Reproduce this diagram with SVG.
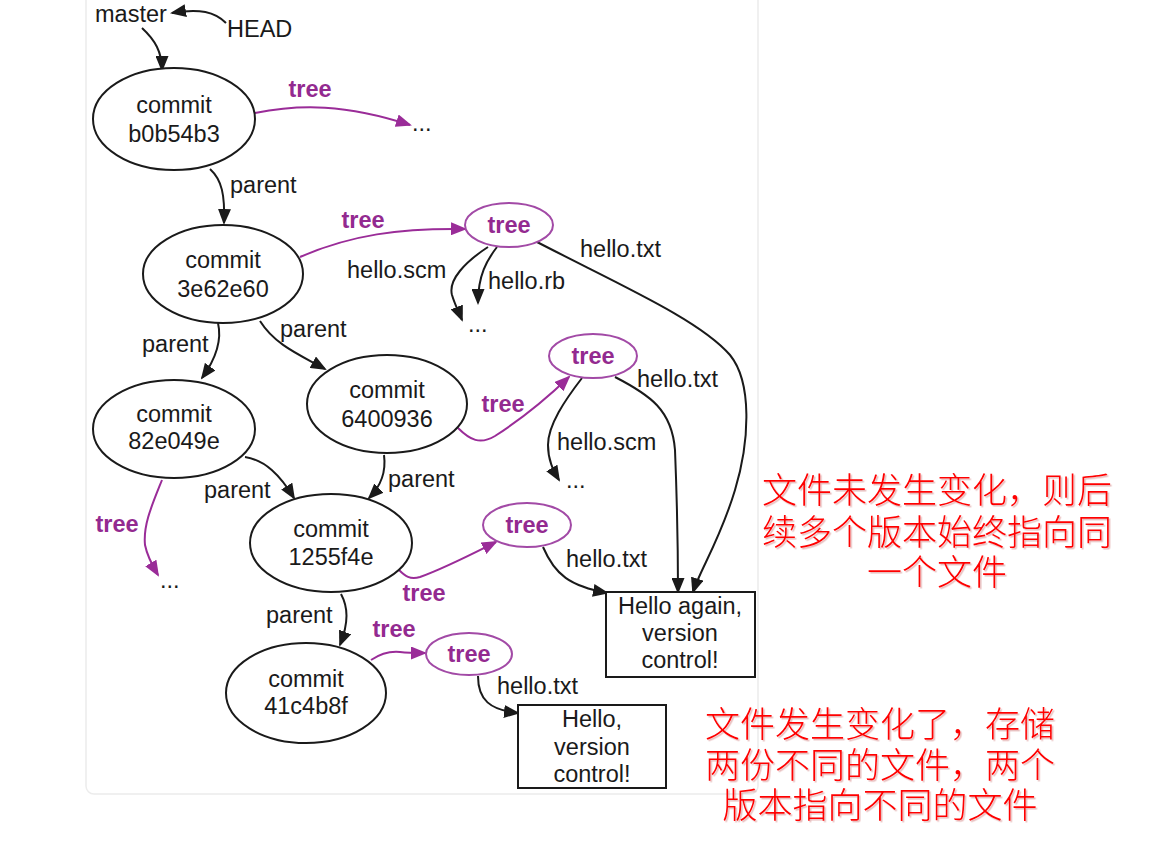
<svg xmlns="http://www.w3.org/2000/svg" width="1166" height="844" viewBox="0 0 1166 844">
<style>
  .t { font-family: "Liberation Sans", Arial, sans-serif; font-size: 23.5px; fill: #1a1a1a; }
  .m { text-anchor: middle; }
  .p { font-family: "Liberation Sans", Arial, sans-serif; font-size: 23.5px; font-weight: bold; fill: #932a90; }
  .node { fill: #fff; stroke: #1a1a1a; stroke-width: 2; }
  .tnode { fill: #fff; stroke: #a24aa6; stroke-width: 2; }
  .box { fill: #fff; stroke: #1a1a1a; stroke-width: 2; }
  .e { fill: none; stroke: #1a1a1a; stroke-width: 2; marker-end: url(#ab); }
  .ep { fill: none; stroke: #9a2c98; stroke-width: 2; marker-end: url(#ap); }
  .cn { font-family: "Liberation Sans", "Noto Sans CJK SC", "Noto Sans CJK TC", sans-serif; font-size: 35px; font-weight: 300; fill: #ff0000; text-anchor: middle; filter: url(#sh); }
</style>
<defs>
  <marker id="ab" viewBox="0 0 16 13" refX="14" refY="6.5" markerWidth="16" markerHeight="13" markerUnits="userSpaceOnUse" orient="auto">
    <path d="M0,0 L16,6.5 L0,13 z" fill="#1a1a1a"/>
  </marker>
  <marker id="ap" viewBox="0 0 16 13" refX="14" refY="6.5" markerWidth="16" markerHeight="13" markerUnits="userSpaceOnUse" orient="auto">
    <path d="M0,0 L16,6.5 L0,13 z" fill="#9a2c98"/>
  </marker>
  <filter id="sh" x="-5%" y="-20%" width="110%" height="140%">
    <feDropShadow dx="1.5" dy="1.5" stdDeviation="0.5" flood-color="#c05050" flood-opacity="0.4"/>
  </filter>
</defs>
<rect x="0" y="0" width="1166" height="844" fill="#fff"/>
<rect x="86" y="-10" width="672" height="804" rx="8" fill="#fff" stroke="#ececec" stroke-width="1.5"/>

<g id="connectors">
  <path class="e" d="M226 23 C 215 12, 200 8, 172 13"/>
  <path class="e" d="M142 28 C 155 40, 162 52, 162 70"/>
  <path class="ep" d="M255 113 C 300 104, 345 104, 410 125"/>
  <path class="e" d="M210 169 C 222 180, 225 195, 224 223"/>
  <path class="ep" d="M300 257 C 350 235, 400 228, 465 229"/>
  <path class="e" d="M488 247 C 465 262, 448 280, 452 295 C 455 305, 458 310, 462 320"/>
  <path class="e" d="M497 247 C 487 260, 478 275, 478 303"/>
  <path class="e" d="M537 242 C 620 285, 700 320, 730 355 C 752 382, 750 440, 735 490 C 720 540, 700 570, 693 592"/>
  <path class="e" d="M218 323 C 222 340, 215 360, 202 378"/>
  <path class="e" d="M260 321 C 275 345, 300 355, 325 369"/>
  <path class="e" d="M245 457 C 265 460, 280 475, 294 498"/>
  <path class="e" d="M384 455 C 386 470, 382 485, 369 498"/>
  <path class="ep" d="M162 480 C 152 505, 143 525, 145 545 C 147 555, 152 565, 158 575"/>
  <path class="ep" d="M458 428 C 470 440, 480 445, 495 436 C 520 420, 545 400, 569 377"/>
  <path class="e" d="M582 378 C 565 400, 548 425, 548 445 C 548 460, 553 470, 559 480"/>
  <path class="e" d="M615 377 C 650 395, 672 410, 675 450 C 677 500, 678 550, 678 592"/>
  <path class="ep" d="M399 570 C 405 576, 410 580, 420 577 C 445 568, 470 555, 496 542"/>
  <path class="e" d="M543 547 C 555 575, 570 586, 607 593"/>
  <path class="e" d="M341 594 C 348 607, 349 622, 340 645"/>
  <path class="ep" d="M371 660 C 380 654, 390 651, 400 652 C 408 653, 414 653, 425 653"/>
  <path class="e" d="M478 676 C 478 700, 490 710, 518 713"/>
</g>

<g id="labels">
  <text class="t" x="95" y="22">master</text>
  <text class="t" x="227" y="37">HEAD</text>
  <text class="p m" x="310" y="97">tree</text>
  <text class="t" x="230" y="193">parent</text>
  <text class="p m" x="363" y="228">tree</text>
  <text class="t" x="347" y="278">hello.scm</text>
  <text class="t" x="488" y="289">hello.rb</text>
  <text class="t" x="580" y="257">hello.txt</text>
  <text class="t" x="142" y="352">parent</text>
  <text class="t" x="280" y="337">parent</text>
  <text class="t" x="204" y="498">parent</text>
  <text class="t" x="388" y="487">parent</text>
  <text class="p m" x="117" y="532">tree</text>
  <text class="p m" x="503" y="412">tree</text>
  <text class="t" x="557" y="450">hello.scm</text>
  <text class="t" x="637" y="387">hello.txt</text>
  <text class="p m" x="424" y="601">tree</text>
  <text class="t" x="566" y="567">hello.txt</text>
  <text class="t" x="266" y="623">parent</text>
  <text class="p m" x="394" y="637">tree</text>
  <text class="t" x="497" y="694">hello.txt</text>
</g>

<g id="more-b0b54b3"><text class="t" x="412" y="131">...</text></g>
<g id="more-tree1"><text class="t" x="468" y="332">...</text></g>
<g id="more-82e049e"><text class="t" x="160" y="588">...</text></g>
<g id="more-tree2"><text class="t" x="566" y="488">...</text></g>

<g id="commit-b0b54b3">
  <ellipse class="node" cx="174" cy="119" rx="81" ry="51"/>
  <text class="t m" x="174" y="113">commit</text>
  <text class="t m" x="174" y="142">b0b54b3</text>
</g>
<g id="commit-3e62e60">
  <ellipse class="node" cx="223" cy="274" rx="80" ry="49"/>
  <text class="t m" x="223" y="268">commit</text>
  <text class="t m" x="223" y="297">3e62e60</text>
</g>
<g id="commit-82e049e">
  <ellipse class="node" cx="174" cy="429" rx="81" ry="49"/>
  <text class="t m" x="174" y="422">commit</text>
  <text class="t m" x="174" y="449">82e049e</text>
</g>
<g id="commit-6400936">
  <ellipse class="node" cx="387" cy="404" rx="80" ry="49"/>
  <text class="t m" x="387" y="398">commit</text>
  <text class="t m" x="387" y="427">6400936</text>
</g>
<g id="commit-1255f4e">
  <ellipse class="node" cx="331" cy="543" rx="81" ry="49"/>
  <text class="t m" x="331" y="537">commit</text>
  <text class="t m" x="331" y="565">1255f4e</text>
</g>
<g id="commit-41c4b8f">
  <ellipse class="node" cx="306" cy="693" rx="80" ry="50"/>
  <text class="t m" x="306" y="687">commit</text>
  <text class="t m" x="306" y="714">41c4b8f</text>
</g>

<g id="tree-1">
  <ellipse class="tnode" cx="509" cy="225" rx="44" ry="22"/>
  <text class="p m" x="509" y="233">tree</text>
</g>
<g id="tree-2">
  <ellipse class="tnode" cx="593" cy="356" rx="44" ry="22"/>
  <text class="p m" x="593" y="364">tree</text>
</g>
<g id="tree-3">
  <ellipse class="tnode" cx="527" cy="525" rx="44" ry="22"/>
  <text class="p m" x="527" y="533">tree</text>
</g>
<g id="tree-4">
  <ellipse class="tnode" cx="469" cy="654" rx="43" ry="21"/>
  <text class="p m" x="469" y="662">tree</text>
</g>

<g id="blob-hello-again">
  <rect class="box" x="606" y="592" width="149" height="85"/>
  <text class="t m" x="680" y="614">Hello again,</text>
  <text class="t m" x="680" y="641">version</text>
  <text class="t m" x="680" y="668">control!</text>
</g>
<g id="blob-hello">
  <rect class="box" x="518" y="705" width="148" height="83"/>
  <text class="t m" x="592" y="727">Hello,</text>
  <text class="t m" x="592" y="755">version</text>
  <text class="t m" x="592" y="782">control!</text>
</g>

<g id="note-unchanged">
  <text class="cn" x="937" y="503">文件未发生变化，则后</text>
  <text class="cn" x="937" y="545">续多个版本始终指向同</text>
  <text class="cn" x="937" y="585">一个文件</text>
</g>
<g id="note-changed">
  <text class="cn" x="880" y="737">文件发生变化了，存储</text>
  <text class="cn" x="880" y="778">两份不同的文件，两个</text>
  <text class="cn" x="880" y="818">版本指向不同的文件</text>
</g>
</svg>
